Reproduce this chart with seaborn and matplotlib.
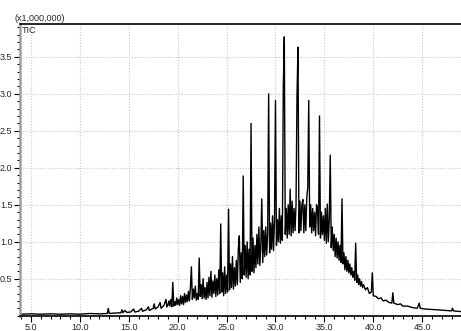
import numpy as np
import pandas as pd
import matplotlib
matplotlib.use("Agg")
import matplotlib.pyplot as plt
import seaborn as sns
from matplotlib.ticker import MultipleLocator, FormatStrFormatter

# Retention time (min) of each trace vertex
rt_early = [3.9, 5.0, 6.0, 7.0, 8.0, 9.0, 10.0, 11.0, 12.0, 12.8, 12.9, 13.0,
            13.5, 14.2, 14.3, 14.4, 14.6, 14.8, 15.2, 15.5, 15.6, 16.0, 16.3, 16.4,
            16.8, 17.0, 17.1, 17.5, 17.6, 17.7, 18.0, 18.2, 18.3, 18.6, 18.8, 18.9]
tic_early = [0.02, 0.025, 0.02, 0.025, 0.02, 0.025, 0.02, 0.03, 0.025, 0.03, 0.10, 0.03,
             0.035, 0.04, 0.08, 0.04, 0.07, 0.045, 0.05, 0.09, 0.05, 0.06, 0.10, 0.06,
             0.08, 0.12, 0.07, 0.10, 0.16, 0.09, 0.12, 0.18, 0.10, 0.14, 0.22, 0.12]

# Dense region 19.0 - 38.9 min, one vertex every 0.1 min (rows = minutes)
rt_dense = [round(19.0 + 0.1 * i, 1) for i in range(200)]
tic_dense = [
    0.14, 0.20, 0.13, 0.22, 0.12, 0.45, 0.13, 0.19, 0.14, 0.24,  # 19
    0.15, 0.22, 0.14, 0.27, 0.16, 0.26, 0.15, 0.30, 0.18, 0.28,  # 20
    0.19, 0.33, 0.20, 0.38, 0.66, 0.22, 0.36, 0.24, 0.40, 0.21,  # 21
    0.30, 0.22, 0.78, 0.26, 0.42, 0.23, 0.50, 0.24, 0.38, 0.22,  # 22
    0.45, 0.24, 0.52, 0.27, 0.60, 0.25, 0.47, 0.30, 0.55, 0.26,  # 23
    0.50, 0.28, 0.62, 0.30, 1.24, 0.32, 0.58, 0.27, 0.66, 0.30,  # 24
    0.55, 0.32, 1.44, 0.35, 0.70, 0.38, 0.80, 0.36, 0.65, 0.40,  # 25
    0.75, 0.42, 0.90, 1.08, 0.45, 0.85, 0.50, 1.89, 0.55, 0.95,  # 26
    0.52, 1.00, 0.50, 0.90, 0.55, 2.60, 0.60, 1.05, 0.58, 0.95,  # 27
    0.65, 1.10, 0.70, 1.20, 0.68, 0.95, 1.58, 0.72, 1.15, 0.80,  # 28
    1.20, 0.82, 1.10, 3.00, 0.85, 1.25, 0.90, 1.35, 0.88, 1.30,  # 29
    2.91, 0.95, 1.30, 1.00, 1.45, 0.98, 1.35, 1.02, 3.10, 3.77,  # 30
    1.10, 1.45, 1.05, 1.50, 1.10, 1.71, 1.08, 1.55, 1.12, 1.45,  # 31
    1.15, 1.50, 2.97, 3.63, 1.12, 1.55, 1.15, 1.50, 1.57, 1.12,  # 32
    1.50, 1.15, 1.60, 1.73, 2.91, 1.20, 1.50, 1.12, 1.45, 1.15,  # 33
    1.40, 1.08, 1.50, 1.44, 1.10, 2.70, 1.05, 1.40, 1.10, 1.35,  # 34
    1.02, 1.45, 0.98, 1.51, 1.00, 1.30, 2.17, 0.92, 1.20, 0.88,  # 35
    1.10, 0.80, 1.05, 0.78, 1.00, 0.75, 0.95, 0.72, 1.58, 0.70,  # 36
    0.85, 0.62, 0.80, 0.60, 0.75, 0.58, 0.70, 0.55, 0.65, 0.52,  # 37
    0.60, 0.48, 0.98, 0.45, 0.55, 0.42, 0.50, 0.40, 0.46, 0.38,  # 38
]

rt_late = [39.0, 39.2, 39.4, 39.6, 39.8, 39.9, 40.0, 40.3, 40.5, 40.8, 41.0, 41.3,
           41.6, 41.9, 42.0, 42.1, 42.5, 42.8, 43.0, 43.5, 44.0, 44.5, 44.7, 44.8,
           45.3, 46.0, 46.5, 47.0, 47.5, 48.0, 48.1, 48.2, 48.6, 49.0]
tic_late = [0.42, 0.35, 0.38, 0.30, 0.32, 0.58, 0.27, 0.26, 0.23, 0.24, 0.20, 0.21,
            0.18, 0.17, 0.31, 0.17, 0.15, 0.16, 0.13, 0.13, 0.11, 0.10, 0.17, 0.10,
            0.09, 0.085, 0.08, 0.075, 0.07, 0.065, 0.10, 0.065, 0.06, 0.055]

x_ticks = [5.0, 10.0, 15.0, 20.0, 25.0, 30.0, 35.0, 40.0, 45.0]
y_ticks = [0.5, 1.0, 1.5, 2.0, 2.5, 3.0, 3.5]

df = pd.DataFrame({
    "rt": rt_early + rt_dense + rt_late,
    "tic": tic_early + tic_dense + tic_late,
})

sns.set_style("white")
plt.rcParams["font.family"] = ["Liberation Sans", "DejaVu Sans"]

fig = plt.figure(figsize=(4.61, 3.31), dpi=100)
ax = fig.add_axes([20 / 461, 15.3 / 331, 1 - 20 / 461, (315.7 - 24.3) / 331])

sns.lineplot(data=df, x="rt", y="tic", ax=ax, color="black", linewidth=1.0,
             estimator=None, sort=False)

ax.set_xlim(3.875, 48.97)
ax.set_ylim(0, 3.94)
ax.set_xticks(x_ticks)
ax.set_yticks(y_ticks)
ax.xaxis.set_major_formatter(FormatStrFormatter("%.1f"))
ax.yaxis.set_major_formatter(FormatStrFormatter("%.1f"))
ax.xaxis.set_minor_locator(MultipleLocator(1.0))
ax.yaxis.set_minor_locator(MultipleLocator(0.1))
ax.set_xlabel("")
ax.set_ylabel("")

ax.grid(True, which="major", color="#c8c8c8", linestyle=(0, (1, 1.5)), linewidth=0.8)
ax.tick_params(axis="both", which="major", direction="out", length=4, width=0.8,
               color="black", labelsize=6.5, pad=1.5, bottom=True, left=True)
ax.tick_params(axis="both", which="minor", direction="out", length=2.5, width=0.8,
               color="black", bottom=True, left=True)

for s in ["right"]:
    ax.spines[s].set_visible(False)
ax.spines["top"].set_color("black")
ax.spines["top"].set_linewidth(1.2)
ax.spines["bottom"].set_color("black")
ax.spines["bottom"].set_linewidth(1.2)
ax.spines["left"].set_color("#a0a0a0")
ax.spines["left"].set_linewidth(1.8)

fig.text(14 / 461, 1 - 21 / 331, "(x1,000,000)", fontsize=6.5, ha="left", va="baseline")
ax.text(0.005, 0.995, "TIC", transform=ax.transAxes, fontsize=6.5, ha="left", va="top")

fig.savefig("out.png", dpi=100)
